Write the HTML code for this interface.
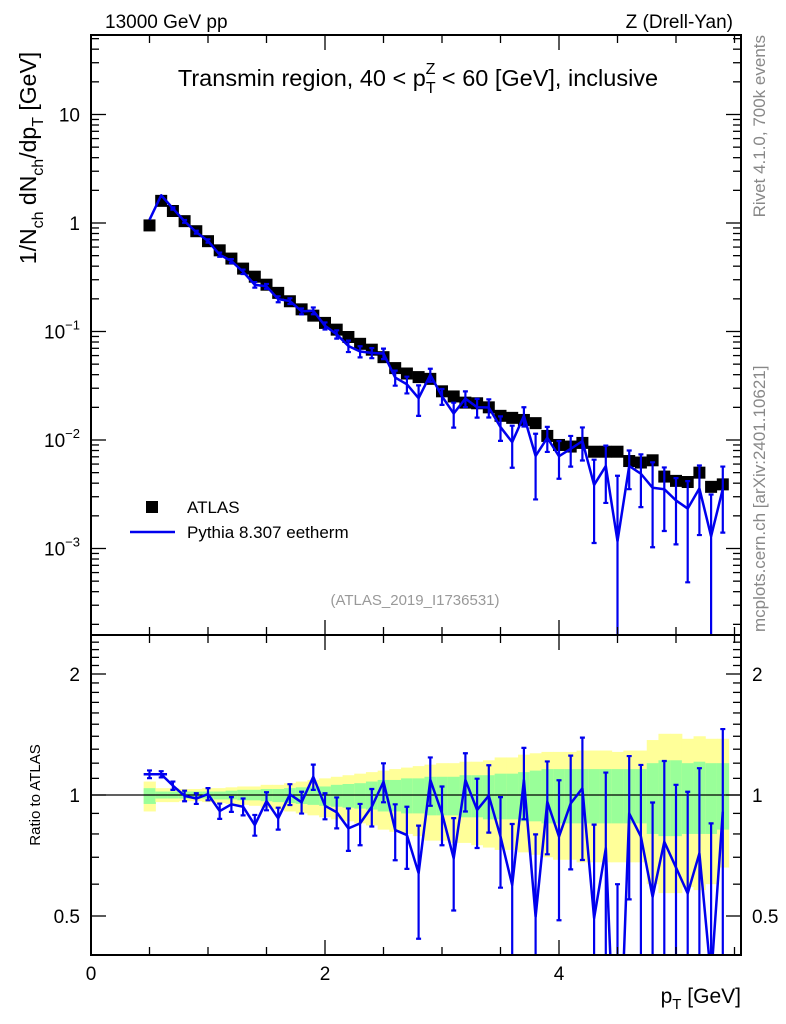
<!DOCTYPE html>
<html><head><meta charset="utf-8"><style>
html,body{margin:0;padding:0;background:#fff;overflow:hidden;width:786px;height:1024px;position:relative;}
svg{position:absolute;left:0;top:0;display:block;font-family:"Liberation Sans",Arial,sans-serif;}
</style></head><body>
<svg id="chart" width="786" height="1024" viewBox="0 0 786 1024">
<defs>
<clipPath id="cm"><rect x="91" y="35" width="650" height="600"/></clipPath>
<clipPath id="cr"><rect x="91" y="635" width="650" height="320"/></clipPath>
</defs>
<g id="bands" clip-path="url(#cr)"></g>
<g id="ratioMarks" clip-path="url(#cr)"></g>
<g id="mainMarks" clip-path="url(#cm)"></g>
<g id="axes"></g>
<text x="105" y="28" font-size="19">13000 GeV pp</text>
<text x="733" y="28" font-size="19" text-anchor="end">Z (Drell-Yan)</text>
<text x="418" y="86" font-size="23.5" text-anchor="middle">Transmin region, 40 &lt; p<tspan dy="7" font-size="16">T</tspan><tspan dx="-10" dy="-19" font-size="16">Z</tspan><tspan dy="12"> &lt; 60 [GeV], inclusive</tspan></text>
<text transform="translate(36,158) rotate(-90)" font-size="23" text-anchor="middle">1/N<tspan dy="7" font-size="16">ch</tspan><tspan dy="-7"> dN</tspan><tspan dy="7" font-size="16">ch</tspan><tspan dy="-7">/dp</tspan><tspan dy="7" font-size="16">T</tspan><tspan dy="-7"> [GeV]</tspan></text>
<text transform="translate(40,795) rotate(-90)" font-size="15" text-anchor="middle">Ratio to ATLAS</text>
<text x="741" y="1003" font-size="21" text-anchor="end">p<tspan dy="6" font-size="15">T</tspan><tspan dy="-6"> [GeV]</tspan></text>
<text transform="translate(765,35) rotate(-90)" font-size="17" fill="#888" text-anchor="end">Rivet 4.1.0,  700k events</text>
<text transform="translate(765,632) rotate(-90)" font-size="17" fill="#888" text-anchor="start">mcplots.cern.ch [arXiv:2401.10621]</text>
<text x="415" y="605" font-size="15" fill="#999" text-anchor="middle">(ATLAS_2019_I1736531)</text>
<g>
<rect x="146" y="501" width="12" height="12" fill="#000"/>
<text x="187" y="513" font-size="17">ATLAS</text>
<line x1="130" y1="532" x2="175" y2="532" stroke="#0000ee" stroke-width="2.5"/>
<text x="187" y="538" font-size="17">Pythia 8.307 eetherm</text>
</g>
</svg>
<script>
const xCenters=[0.5,0.6,0.7,0.8,0.9,1.0,1.1,1.2,1.3,1.4,1.5,1.6,1.7,1.8,1.9,2.0,2.1,2.2,2.3,2.4,2.5,2.6,2.7,2.8,2.9,3.0,3.1,3.2,3.3,3.4,3.5,3.6,3.7,3.8,3.9,4.0,4.1,4.2,4.3,4.4,4.5,4.6,4.7,4.8,4.9,5.0,5.1,5.2,5.3,5.4];
const atlas=[0.95,1.6,1.29,1.04,0.84,0.68,0.56,0.47,0.38,0.32,0.27,0.227,0.19,0.16,0.14,0.12,0.104,0.089,0.077,0.068,0.058,0.046,0.041,0.038,0.0366,0.0281,0.0252,0.0221,0.0218,0.020,0.0167,0.016,0.0153,0.0143,0.0109,0.009,0.0087,0.0094,0.0078,0.0078,0.0078,0.0064,0.0062,0.0065,0.0046,0.0042,0.0041,0.005,0.0037,0.0039];
const ratio=[1.126,1.126,1.055,0.995,0.98,1.005,0.912,0.948,0.935,0.842,0.966,0.875,1.004,0.959,1.11,0.94,0.906,0.826,0.85,0.935,1.079,0.818,0.795,0.639,1.09,0.9,0.696,1.09,0.918,0.996,0.788,0.597,1.09,0.498,0.962,0.788,0.953,1.039,0.494,0.737,0.15,0.9,0.788,0.558,0.765,0.66,0.569,0.716,0.35,0.909];
const ratioErr=[0.025,0.02,0.025,0.03,0.03,0.035,0.04,0.04,0.045,0.05,0.05,0.055,0.06,0.06,0.08,0.07,0.08,0.1,0.1,0.1,0.12,0.13,0.14,0.2,0.15,0.15,0.18,0.18,0.18,0.19,0.2,0.25,0.22,0.3,0.25,0.3,0.3,0.35,0.35,0.4,0.45,0.35,0.4,0.4,0.45,0.4,0.45,0.45,0.5,0.55];
const yelUp=[1.08,1.04,1.04,1.035,1.035,1.04,1.04,1.045,1.05,1.05,1.06,1.06,1.07,1.08,1.09,1.10,1.11,1.12,1.13,1.14,1.15,1.16,1.17,1.18,1.19,1.2,1.2,1.21,1.21,1.22,1.24,1.24,1.26,1.27,1.28,1.28,1.28,1.29,1.29,1.29,1.28,1.29,1.29,1.37,1.42,1.42,1.38,1.4,1.38,1.38];
const yelDn=[0.91,0.96,0.96,0.965,0.965,0.96,0.955,0.95,0.945,0.94,0.93,0.92,0.91,0.9,0.89,0.88,0.87,0.86,0.85,0.84,0.82,0.81,0.8,0.79,0.77,0.77,0.76,0.76,0.75,0.74,0.73,0.73,0.72,0.71,0.7,0.69,0.69,0.68,0.68,0.68,0.68,0.68,0.68,0.6,0.57,0.57,0.59,0.58,0.6,0.66];
const grnUp=[1.04,1.02,1.02,1.02,1.02,1.02,1.02,1.025,1.03,1.03,1.035,1.035,1.04,1.045,1.05,1.05,1.06,1.065,1.07,1.08,1.09,1.09,1.1,1.1,1.11,1.11,1.11,1.12,1.12,1.12,1.13,1.13,1.14,1.15,1.16,1.16,1.16,1.16,1.16,1.16,1.16,1.16,1.16,1.2,1.22,1.22,1.2,1.21,1.2,1.2];
const grnDn=[0.95,0.98,0.98,0.98,0.98,0.98,0.975,0.975,0.97,0.97,0.965,0.96,0.955,0.95,0.945,0.94,0.935,0.93,0.925,0.92,0.91,0.91,0.9,0.9,0.89,0.89,0.89,0.88,0.88,0.87,0.87,0.87,0.86,0.86,0.85,0.85,0.85,0.85,0.85,0.85,0.85,0.85,0.85,0.8,0.79,0.79,0.8,0.8,0.8,0.82];
const xTickLabels=["0","2","4"];
const yTickLabels=["10","1","10^-1","10^-2","10^-3"];
const ratioTickLabels=["0.5","1","2"];

const NS="http://www.w3.org/2000/svg";
const X0=91,X1=741,YT=35,YB=635,RT=635,RB=955;
const xs=v=>X0+(v-0)*117;
const ys=v=>223-108.5*Math.log10(v);
const rs=v=>795-121*Math.log2(v);
const cl=(y,a,b)=>Math.min(Math.max(y,a),b);
function mk(tag,parent,attrs){const e=document.createElementNS(NS,tag);for(const k in attrs)e.setAttribute(k,attrs[k]);parent.appendChild(e);return e;}
const gB=document.getElementById('bands'),gR=document.getElementById('ratioMarks'),gM=document.getElementById('mainMarks'),gA=document.getElementById('axes');
const BLUE="#0000ee";
xCenters.forEach((x,i)=>{
 const a=xs(x-0.05),b=xs(x+0.05);
 let r=mk('rect',gB,{x:a,y:rs(yelUp[i]),width:b-a+0.5,height:rs(yelDn[i])-rs(yelUp[i]),fill:'#ffff99'});
 
 
 r=mk('rect',gB,{x:a,y:rs(grnUp[i]),width:b-a+0.5,height:rs(grnDn[i])-rs(grnUp[i]),fill:'#99ff99'});
 
 
});
let ln=mk('line',gB,{x1:X0,x2:X1,y1:rs(1),y2:rs(1),stroke:'#000','stroke-width':1.3});


let pts=xCenters.map((x,i)=>xs(x)+','+rs(ratio[i])).join(' ');
let pl=mk('polyline',gR,{points:pts,fill:'none',stroke:BLUE,'stroke-width':2.5,'stroke-linejoin':'round'});


function errbar(g,x,yt,yb,name,a,b){
 const t=cl(yt,a,b),bb=cl(yb,a,b);
 let d=`M${x},${t}V${bb}`;
 if(yt>=a)d+=`M${x-2.5},${t}h5`;
 if(yb<=b)d+=`M${x-2.5},${bb}h5`;
 const e=mk('path',g,{d,stroke:BLUE,'stroke-width':2.2,fill:'none'});
 
 
}
xCenters.forEach((x,i)=>{
 const lo=Math.max(ratio[i]-ratioErr[i],0.01);
 errbar(gR,xs(x),rs(ratio[i]+ratioErr[i]),rs(lo),'ratio-error-bar',RT,RB);
});
let hb=mk('path',gR,{d:`M${xs(0.45)},${rs(ratio[0])}H${xs(0.55)}M${xs(0.55)},${rs(ratio[1])}H${xs(0.65)}`,stroke:BLUE,'stroke-width':2.5});


xCenters.forEach((x,i)=>{
 const r=mk('rect',gM,{x:xs(x)-6,y:ys(atlas[i])-6,width:12,height:12,fill:'#000'});
 
 
});
pts=xCenters.map((x,i)=>xs(x)+','+ys(atlas[i]*ratio[i])).join(' ');
pl=mk('polyline',gM,{points:pts,fill:'none',stroke:BLUE,'stroke-width':2.5,'stroke-linejoin':'round'});


xCenters.forEach((x,i)=>{
 const v=atlas[i]*ratio[i],e=atlas[i]*ratioErr[i];
 if(i<2)return;
 errbar(gM,xs(x),ys(v+e),ys(Math.max(v-e,1e-5)),'pythia-error-bar',YT,YB);
});
[[YT,YB],[RT,RB]].forEach(([t,b],k)=>{
 const r=mk('rect',gA,{x:X0,y:t,width:X1-X0,height:b-t,fill:'none',stroke:'#000','stroke-width':2});
 
 
});
function tk(x1,y1,x2,y2){mk('line',gA,{x1,y1,x2,y2,stroke:'#000','stroke-width':1.3});}
function txt(x,y,s,anchor,size){const t=mk('text',gA,{x,y,'font-size':size||19,'text-anchor':anchor||'middle'});t.textContent=s;return t;}
for(let v=0;v<=5.5;v+=0.5){
 const x=xs(v),big=Math.abs(v%2)<1e-6;
 const L=big?15:8;
 [[YB,YT],[RB,RT]].forEach(([b,t])=>{tk(x,b,x,b-L);tk(x,t,x,t+L);});
}
xTickLabels.forEach(s=>{const t=txt(xs(+s),980,s,'middle',19);});
for(let d=-4;d<=1;d++){
 for(let m=1;m<10;m++){
  const v=m*Math.pow(10,d),y=ys(v);
  if(y<YT||y>YB)continue;
  const L=m===1?15:8;
  tk(X0,y,X0+L,y);tk(X1,y,X1-L,y);
 }
}
yTickLabels.forEach((s,i)=>{
 const d=1-i,y=ys(Math.pow(10,d))+7;
 let t;
 if(s.indexOf('^')<0){t=txt(80,y,s,'end',19);}
 else{
  t=mk('text',gA,{x:80,y,'font-size':19,'text-anchor':'end'});
  const p=s.split('^');
  const a=mk('tspan',t,{});a.textContent=p[0];
  const b=mk('tspan',t,{dy:-9,'font-size':13});b.textContent=p[1].replace('-','\u2212');
 }
 
 
});
const rt=[0.4,0.5,0.6,0.7,0.8,0.9,1,1.1,1.2,1.3,1.4,1.5,1.6,1.7,1.8,1.9,2,2.1,2.2,2.3,2.4,2.5];
rt.forEach(v=>{const y=rs(v);if(y<RT||y>RB)return;const L=(v===0.5||v===1||v===2)?15:8;tk(X0,y,X0+L,y);tk(X1,y,X1-L,y);});
ratioTickLabels.forEach(s=>{
 const y=rs(+s)+7;
 let t=txt(80,y,s,'end',19);
 t=txt(752,y,s,'start',19);
});
</script>
</body></html>
